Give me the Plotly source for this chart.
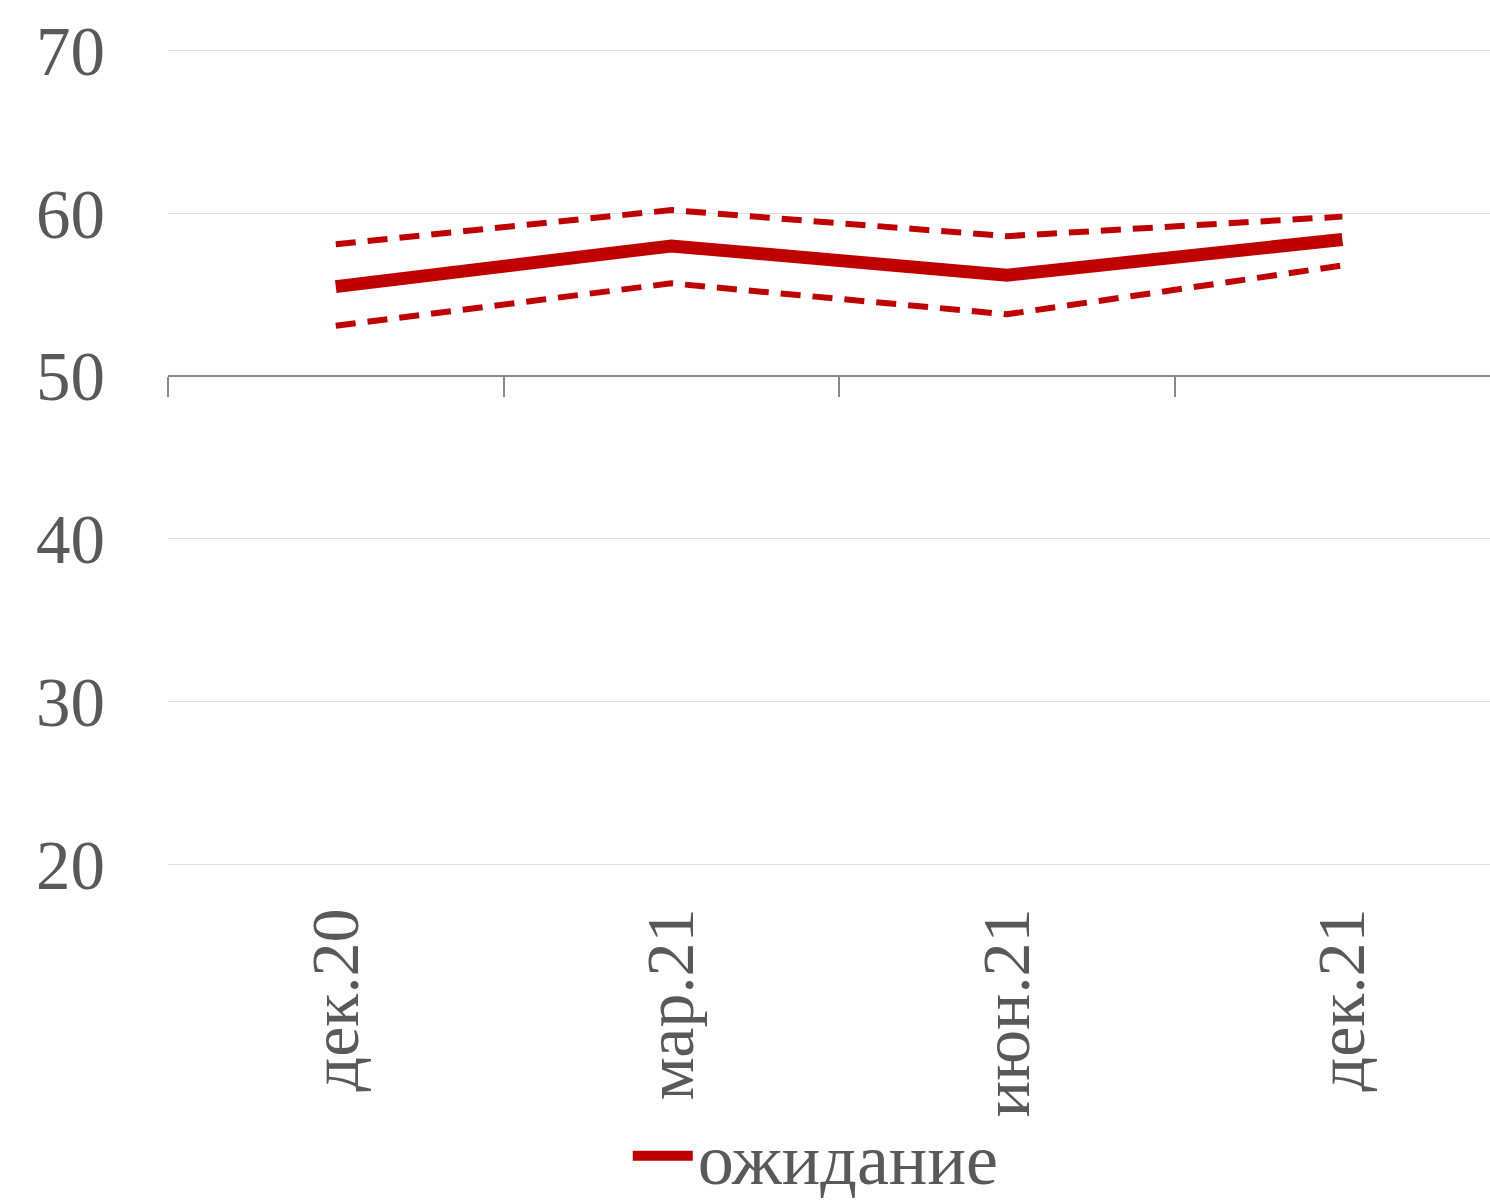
import plotly.graph_objects as go

categories = ["дек.20", "мар.21", "июн.21", "дек.21"]
expected = [55.5, 58.0, 56.2, 58.4]
upper = [58.1, 60.2, 58.6, 59.8]
lower = [53.1, 55.7, 53.8, 56.8]
y_ticks = [20, 30, 40, 50, 60, 70]

RED = "#C00000"
TXT = "#595959"
FONT = "Liberation Serif"

fig = go.Figure()
fig.add_trace(go.Scatter(x=categories, y=upper, mode="lines", showlegend=False,
                         line=dict(color=RED, width=6, dash="20px,12px"), hoverinfo="skip"))
fig.add_trace(go.Scatter(x=categories, y=lower, mode="lines", showlegend=False,
                         line=dict(color=RED, width=6, dash="20px,12px"), hoverinfo="skip"))
fig.add_trace(go.Scatter(x=categories, y=expected, mode="lines", name="ожидание",
                         line=dict(color=RED, width=13)))
# helper trace to anchor the crossing axis at y=50
fig.add_trace(go.Scatter(x=categories, y=expected, mode="lines", xaxis="x2", showlegend=False,
                         opacity=0, hoverinfo="skip", line=dict(width=0)))

y_lo, y_hi = 19.9, 70.1
fig.update_layout(
    width=1490, height=1201,
    margin=dict(l=168, r=0, t=49, b=335, autoexpand=False),
    paper_bgcolor="white", plot_bgcolor="white",
    font=dict(family=FONT, color=TXT, size=66),
    xaxis=dict(type="category", categoryarray=categories, range=[-0.5, 3.44], automargin=False,
               showgrid=False, showline=False, zeroline=False, ticks="",
               tickangle=-90, tickfont=dict(family=FONT, size=68, color=TXT),
               ticklabelstandoff=28),
    xaxis2=dict(type="category", categoryarray=categories, matches="x", overlaying="x",
                anchor="free", position=(50 - y_lo) / (y_hi - y_lo), side="bottom", automargin=False,
                showgrid=False, zeroline=False, showline=True, linecolor="#898989", linewidth=2,
                ticks="outside", ticklen=20, tickwidth=2, tickcolor="#898989",
                tickson="boundaries", showticklabels=False),
    yaxis=dict(range=[y_lo, y_hi], tickvals=y_ticks, showgrid=True, gridcolor="#E0E0E0", gridwidth=1,
               zeroline=False, showline=False, ticks="", automargin=False,
               tickfont=dict(family=FONT, size=69, color=TXT), ticklabelstandoff=62),
    legend=dict(orientation="h", x=0.49, xanchor="center", y=-0.355, yanchor="middle",
                font=dict(family=FONT, size=72, color=TXT), itemwidth=60,
                bgcolor="rgba(0,0,0,0)"),
)

fig.write_html(
    "out.html",
    config={"displayModeBar": False},
    post_script="document.body.style.margin='0';document.body.style.overflow='hidden';",
)
